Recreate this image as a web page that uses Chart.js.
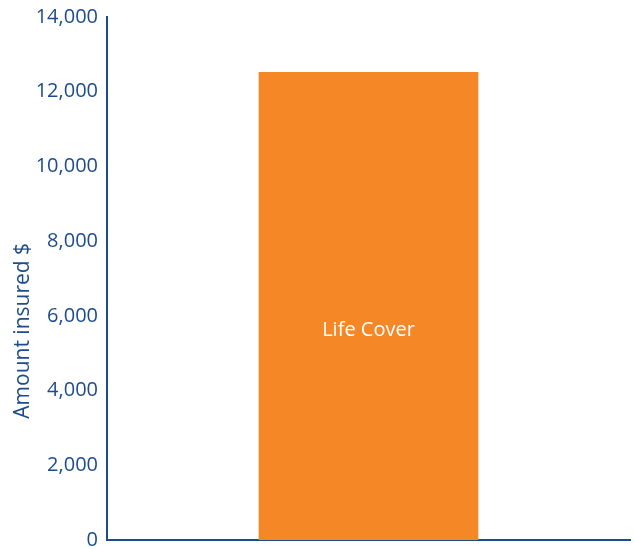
<!DOCTYPE html>
<html>
<head>
<meta charset="utf-8">
<script src="https://cdn.jsdelivr.net/npm/chart.js@4.4.1/dist/chart.umd.min.js"></script>
<style>
    html, body { margin: 0; padding: 0; background: #fff; }
    #wrap { width: 634px; height: 549px; position: relative; }
</style>
</head>
<body>
<div id="wrap"><canvas id="coverChart"></canvas></div>
<script>
const categories = ["Life Cover"];
const amounts = [12530];
const yTicks = [0, 2000, 4000, 6000, 8000, 10000, 12000, 14000];
const axisTitle = "Amount insured $";

const blue = "#1d4c8c";
const orange = "#f58727";
const fontFamily = "'Open Sans', sans-serif";

// writes the category name inside its bar and the rotated y title
const labelPlugin = {
    id: "barLabels",
    afterDatasetsDraw(chart) {
        const ctx = chart.ctx;
        const meta = chart.getDatasetMeta(0);
        ctx.save();
        ctx.fillStyle = "#ffffff";
        ctx.font = "20px " + fontFamily;
        ctx.textAlign = "center";
        ctx.textBaseline = "middle";
        meta.data.forEach((bar, i) => {
            const y = (bar.y + bar.base) / 2 + 24;
            ctx.fillText(categories[i], bar.x, y);
        });
        ctx.restore();

        ctx.save();
        ctx.fillStyle = blue;
        ctx.font = "21px " + fontFamily;
        ctx.textAlign = "center";
        ctx.textBaseline = "middle";
        ctx.translate(23, chart.chartArea.top + (chart.chartArea.bottom - chart.chartArea.top) * 0.6);
        ctx.rotate(-Math.PI / 2);
        ctx.fillText(axisTitle, 0, 0);
        ctx.restore();
    },
};

const ctx = document.getElementById("coverChart").getContext("2d");
new Chart(ctx, {
    type: "bar",
    data: {
        labels: categories,
        datasets: [
            {
                label: "Amount insured",
                data: amounts,
                backgroundColor: orange,
                borderWidth: 0,
                categoryPercentage: 0.42,
                barPercentage: 1,
            },
        ],
    },
    options: {
        responsive: true,
        maintainAspectRatio: false,
        animation: false,
        layout: {
            padding: { top: 17, right: 4, bottom: 9, left: 0 },
        },
        plugins: {
            legend: { display: false },
            tooltip: { enabled: false },
        },
        scales: {
            x: {
                afterFit: (scale) => {
                    scale.height = 0;
                },
                grid: { display: false, drawTicks: false },
                border: { display: true, color: blue, width: 2 },
                ticks: { display: false },
            },
            y: {
                min: 0,
                max: 14000,
                afterBuildTicks: (scale) => {
                    scale.ticks = yTicks.map((v) => ({ value: v }));
                },
                afterFit: (scale) => {
                    scale.width = 107;
                    scale.paddingTop = 0;
                    scale.paddingBottom = 0;
                },
                grid: { display: false, drawTicks: false },
                border: { display: true, color: blue, width: 2 },
                ticks: {
                    color: blue,
                    padding: 9,
                    font: { family: fontFamily, size: 20 },
                    callback: (v) => v.toLocaleString("en-US"),
                },
            },
        },
    },
    plugins: [labelPlugin],
});
</script>
</body>
</html>
